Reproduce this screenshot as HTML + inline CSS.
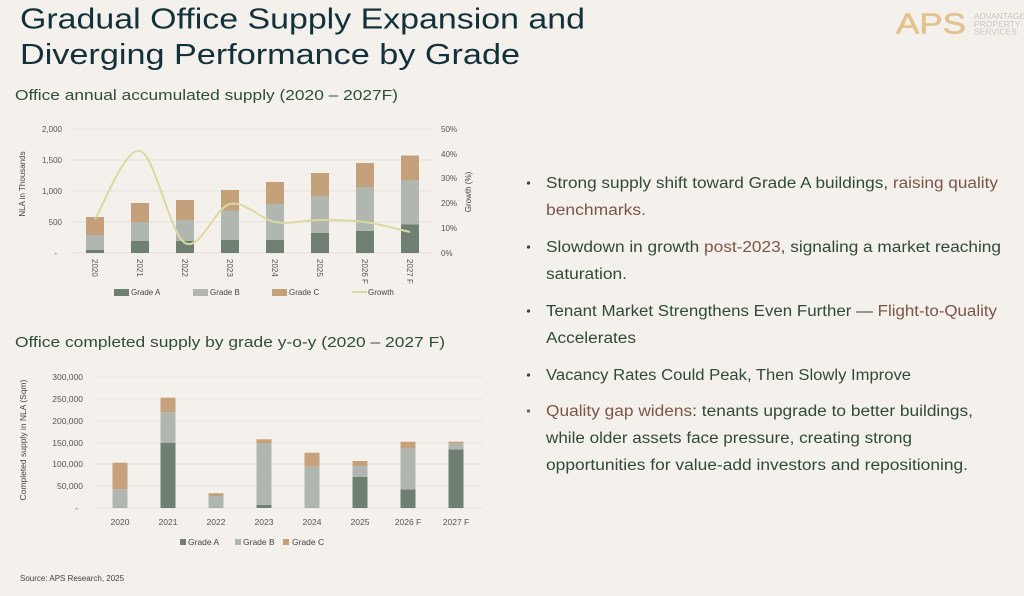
<!DOCTYPE html>
<html><head><meta charset="utf-8"><style>
html,body{margin:0;padding:0;background:#f4f0ec;}
svg{display:block;}
text{font-family:"Liberation Sans",sans-serif;}
</style></head><body>
<svg width="1024" height="596" viewBox="0 0 1024 596" xmlns="http://www.w3.org/2000/svg">
<rect width="1024" height="596" fill="#f4f0ec"/>
<!-- Title -->
<text x="20" y="28.5" font-size="29" fill="#12313a" textLength="565" lengthAdjust="spacingAndGlyphs">Gradual Office Supply Expansion and</text>
<text x="20" y="64" font-size="29" fill="#12313a" textLength="500" lengthAdjust="spacingAndGlyphs">Diverging Performance by Grade</text>
<!-- Logo -->
<text x="896" y="33.3" font-size="29" fill="#e2c38f" stroke="#e2c38f" stroke-width="0.6" textLength="70" lengthAdjust="spacingAndGlyphs">APS</text>
<text x="974" y="19" font-size="8.5" fill="#cdc6bd">ADVANTAGE</text>
<text x="974" y="27" font-size="8.5" fill="#cdc6bd">PROPERTY</text>
<text x="974" y="34.5" font-size="8.5" fill="#cdc6bd">SERVICES</text>
<!-- Subtitles -->
<text x="15" y="100" font-size="15" fill="#2e4f36" textLength="383" lengthAdjust="spacingAndGlyphs">Office annual accumulated supply (2020 – 2027F)</text>
<text x="15" y="347" font-size="15" fill="#2e4f36" textLength="430" lengthAdjust="spacingAndGlyphs">Office completed supply by grade y-o-y (2020 – 2027 F)</text>

<!-- Chart 1 -->
<g stroke="#e6e1dc" stroke-width="1">
<line x1="72" y1="129" x2="432" y2="129"/><line x1="72" y1="160" x2="432" y2="160"/>
<line x1="72" y1="191" x2="432" y2="191"/><line x1="72" y1="222" x2="432" y2="222"/>
<line x1="72" y1="253" x2="432" y2="253"/>
</g>
<g font-size="8" fill="#555" text-anchor="end">
<text x="62" y="132">2,000</text><text x="62" y="163">1,500</text><text x="62" y="194">1,000</text><text x="62" y="225">500</text><text x="57" y="256">-</text>
</g>
<g font-size="8" fill="#555">
<text x="441" y="132">50%</text><text x="441" y="157">40%</text><text x="441" y="181">30%</text><text x="441" y="206">20%</text><text x="441" y="231">10%</text><text x="441" y="256">0%</text>
</g>
<text transform="translate(25,184) rotate(-90)" font-size="8" fill="#444" text-anchor="middle">NLA in Thousands</text>
<text transform="translate(471,192) rotate(-90)" font-size="8" fill="#444" text-anchor="middle">Growth (%)</text>
<!-- bars chart1 -->
<g>
<rect x="86" y="250" width="18" height="3" fill="#6f7f72"/><rect x="86" y="235" width="18" height="15" fill="#b1b6b1"/><rect x="86" y="217" width="18" height="18" fill="#c4a17a"/>
<rect x="131" y="241" width="18" height="12" fill="#6f7f72"/><rect x="131" y="222" width="18" height="19" fill="#b1b6b1"/><rect x="131" y="203" width="18" height="19" fill="#c4a17a"/>
<rect x="176" y="241" width="18" height="12" fill="#6f7f72"/><rect x="176" y="220" width="18" height="21" fill="#b1b6b1"/><rect x="176" y="200" width="18" height="20" fill="#c4a17a"/>
<rect x="221" y="240" width="18" height="13" fill="#6f7f72"/><rect x="221" y="210.5" width="18" height="29.5" fill="#b1b6b1"/><rect x="221" y="190" width="18" height="20.5" fill="#c4a17a"/>
<rect x="266" y="240" width="18" height="13" fill="#6f7f72"/><rect x="266" y="204" width="18" height="36" fill="#b1b6b1"/><rect x="266" y="182" width="18" height="22" fill="#c4a17a"/>
<rect x="311" y="233" width="18" height="20" fill="#6f7f72"/><rect x="311" y="196" width="18" height="37" fill="#b1b6b1"/><rect x="311" y="173" width="18" height="23" fill="#c4a17a"/>
<rect x="356" y="231" width="18" height="22" fill="#6f7f72"/><rect x="356" y="187" width="18" height="44" fill="#b1b6b1"/><rect x="356" y="163" width="18" height="24" fill="#c4a17a"/>
<rect x="401" y="224.5" width="18" height="28.5" fill="#6f7f72"/><rect x="401" y="180" width="18" height="44.5" fill="#b1b6b1"/><rect x="401" y="155.5" width="18" height="24.5" fill="#c4a17a"/>
</g>
<path d="M95,219 C102.5,207.7 125,147 140,151 C155,155 170,234.2 185,243 C200,251.8 215,207.5 230,204 C245,200.5 260,219.3 275,222 C290,224.7 305,220 320,220 C335,220 350,220 365,222 C380,224 402.5,230.3 410,232" fill="none" stroke="#dcd99f" stroke-width="2"/>
<g font-size="8" fill="#555">
<text transform="translate(92,259) rotate(90)">2020</text>
<text transform="translate(137,259) rotate(90)">2021</text>
<text transform="translate(182,259) rotate(90)">2022</text>
<text transform="translate(227,259) rotate(90)">2023</text>
<text transform="translate(272,259) rotate(90)">2024</text>
<text transform="translate(317,259) rotate(90)">2025</text>
<text transform="translate(362,259) rotate(90)">2026 F</text>
<text transform="translate(407,259) rotate(90)">2027 F</text>
</g>
<g font-size="8" fill="#444">
<rect x="114" y="289" width="15" height="7" fill="#6f7f72"/><text x="131" y="295">Grade A</text>
<rect x="193" y="289" width="15" height="7" fill="#b1b6b1"/><text x="210" y="295">Grade B</text>
<rect x="272" y="289" width="15" height="7" fill="#c4a17a"/><text x="289" y="295">Grade C</text>
<line x1="352" y1="292" x2="367" y2="292" stroke="#dcd99f" stroke-width="2"/><text x="368" y="295">Growth</text>
</g>

<!-- Chart 2 -->
<g stroke="#e8e3de" stroke-width="1">
<line x1="95" y1="377" x2="482" y2="377"/><line x1="95" y1="399" x2="482" y2="399"/>
<line x1="95" y1="421" x2="482" y2="421"/><line x1="95" y1="443" x2="482" y2="443"/>
<line x1="95" y1="464" x2="482" y2="464"/><line x1="95" y1="486" x2="482" y2="486"/>
<line x1="95" y1="508" x2="482" y2="508"/>
</g>
<g font-size="8.5" fill="#555" text-anchor="end">
<text x="83" y="380">300,000</text><text x="83" y="402">250,000</text><text x="83" y="424">200,000</text><text x="83" y="446">150,000</text><text x="83" y="467">100,000</text><text x="83" y="489">50,000</text><text x="78" y="511">-</text>
</g>
<text transform="translate(26,440) rotate(-90)" font-size="8.5" fill="#444" text-anchor="middle">Completed supply in NLA (Sqm)</text>
<g>
<rect x="112.5" y="489.3" width="15" height="18.7" fill="#b1b6b1"/><rect x="112.5" y="462.7" width="15" height="26.6" fill="#c4a17a"/>
<rect x="160.5" y="442.7" width="15" height="65.3" fill="#6f7f72"/><rect x="160.5" y="412.3" width="15" height="30.4" fill="#b1b6b1"/><rect x="160.5" y="397.7" width="15" height="14.6" fill="#c4a17a"/>
<rect x="208.5" y="496" width="15" height="12" fill="#b1b6b1"/><rect x="208.5" y="493.3" width="15" height="2.7" fill="#c4a17a"/>
<rect x="256.5" y="505" width="15" height="3" fill="#6f7f72"/><rect x="256.5" y="443.3" width="15" height="61.7" fill="#b1b6b1"/><rect x="256.5" y="439.3" width="15" height="4" fill="#c4a17a"/>
<rect x="304.5" y="466.7" width="15" height="41.3" fill="#b1b6b1"/><rect x="304.5" y="452.7" width="15" height="14" fill="#c4a17a"/>
<rect x="352.5" y="476.7" width="15" height="31.3" fill="#6f7f72"/><rect x="352.5" y="466" width="15" height="10.7" fill="#b1b6b1"/><rect x="352.5" y="461" width="15" height="5" fill="#c4a17a"/>
<rect x="400.5" y="489.3" width="15" height="18.7" fill="#6f7f72"/><rect x="400.5" y="448.3" width="15" height="41" fill="#b1b6b1"/><rect x="400.5" y="441.7" width="15" height="6.6" fill="#c4a17a"/>
<rect x="448.5" y="449.3" width="15" height="58.7" fill="#6f7f72"/><rect x="448.5" y="443.3" width="15" height="6" fill="#b1b6b1"/><rect x="448.5" y="441.7" width="15" height="1.6" fill="#c4a17a"/>
</g>
<g font-size="8.5" fill="#555" text-anchor="middle">
<text x="120" y="525">2020</text><text x="168" y="525">2021</text><text x="216" y="525">2022</text><text x="264" y="525">2023</text>
<text x="312" y="525">2024</text><text x="360" y="525">2025</text><text x="408" y="525">2026 F</text><text x="456" y="525">2027 F</text>
</g>
<g font-size="8.5" fill="#444">
<rect x="180" y="539" width="6" height="6" fill="#6f7f72"/><text x="188" y="545">Grade A</text>
<rect x="235" y="539" width="6" height="6" fill="#b1b6b1"/><text x="243" y="545">Grade B</text>
<rect x="283" y="539" width="6" height="6" fill="#c4a17a"/><text x="292" y="545">Grade C</text>
</g>

<!-- Bullets -->
<g font-size="15.5" fill="#2f4a35">
<circle cx="528.5" cy="183" r="1.6" fill="#2f4a35"/>
<circle cx="528.5" cy="247" r="1.6" fill="#2f4a35"/>
<circle cx="528.5" cy="311" r="1.6" fill="#2f4a35"/>
<circle cx="528.5" cy="375" r="1.6" fill="#2f4a35"/>
<circle cx="528.5" cy="411" r="1.6" fill="#7b5646"/>
<text x="546" y="188" textLength="452" lengthAdjust="spacingAndGlyphs">Strong supply shift toward Grade A buildings, <tspan fill="#7b5646">raising quality</tspan></text>
<text x="546" y="215" fill="#7b5646" textLength="100" lengthAdjust="spacingAndGlyphs">benchmarks.</text>
<text x="546" y="252" textLength="455" lengthAdjust="spacingAndGlyphs">Slowdown in growth <tspan fill="#7b5646">post-2023</tspan>, signaling a market reaching</text>
<text x="546" y="279" textLength="81" lengthAdjust="spacingAndGlyphs">saturation.</text>
<text x="546" y="316" textLength="451" lengthAdjust="spacingAndGlyphs">Tenant Market Strengthens Even Further — <tspan fill="#7b5646">Flight-to-Quality</tspan></text>
<text x="546" y="343" textLength="90" lengthAdjust="spacingAndGlyphs">Accelerates</text>
<text x="546" y="380" textLength="365" lengthAdjust="spacingAndGlyphs">Vacancy Rates Could Peak, Then Slowly Improve</text>
<text x="546" y="416" textLength="427" lengthAdjust="spacingAndGlyphs"><tspan fill="#7b5646">Quality gap widens</tspan>: tenants upgrade to better buildings,</text>
<text x="546" y="443" textLength="366" lengthAdjust="spacingAndGlyphs">while older assets face pressure, creating strong</text>
<text x="546" y="470" textLength="422" lengthAdjust="spacingAndGlyphs">opportunities for value-add investors and repositioning.</text>
</g>

<text x="20" y="581" font-size="8" fill="#444">Source: APS Research, 2025</text>
</svg>
</body></html>
